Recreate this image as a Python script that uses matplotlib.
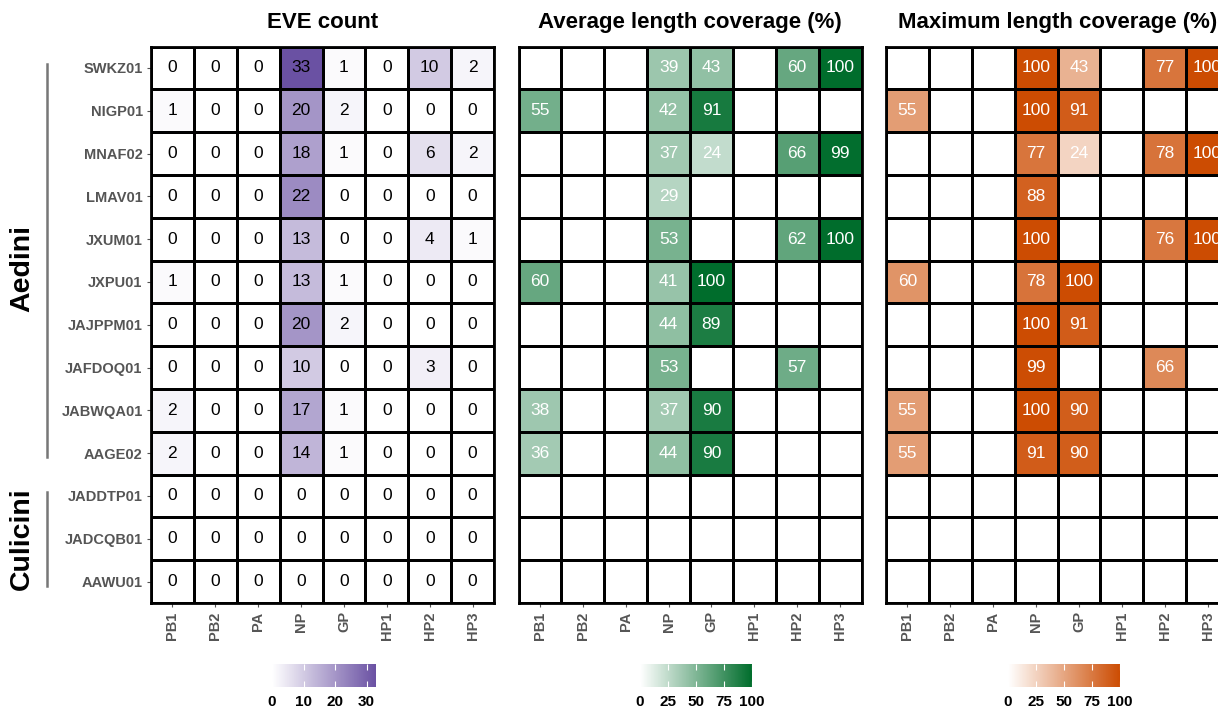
import numpy as np
import matplotlib
matplotlib.use('Agg')
import matplotlib.pyplot as plt
from matplotlib.colors import LinearSegmentedColormap, Normalize

plt.rcParams['font.family'] = ['Liberation Sans', 'DejaVu Sans']

# data
samples = ['SWKZ01', 'NIGP01', 'MNAF02', 'LMAV01', 'JXUM01', 'JXPU01', 'JAJPPM01',
           'JAFDOQ01', 'JABWQA01', 'AAGE02', 'JADDTP01', 'JADCQB01', 'AAWU01']
segments = ['PB1', 'PB2', 'PA', 'NP', 'GP', 'HP1', 'HP2', 'HP3']
tribes = ['Aedini', 'Culicini']
tribe_sizes = [10, 3]

n = np.nan
eve_count = [
    [0, 0, 0, 33, 1, 0, 10, 2],
    [1, 0, 0, 20, 2, 0, 0, 0],
    [0, 0, 0, 18, 1, 0, 6, 2],
    [0, 0, 0, 22, 0, 0, 0, 0],
    [0, 0, 0, 13, 0, 0, 4, 1],
    [1, 0, 0, 13, 1, 0, 0, 0],
    [0, 0, 0, 20, 2, 0, 0, 0],
    [0, 0, 0, 10, 0, 0, 3, 0],
    [2, 0, 0, 17, 1, 0, 0, 0],
    [2, 0, 0, 14, 1, 0, 0, 0],
    [0, 0, 0, 0, 0, 0, 0, 0],
    [0, 0, 0, 0, 0, 0, 0, 0],
    [0, 0, 0, 0, 0, 0, 0, 0],
]
avg_cov = [
    [n, n, n, 39, 43, n, 60, 100],
    [55, n, n, 42, 91, n, n, n],
    [n, n, n, 37, 24, n, 66, 99],
    [n, n, n, 29, n, n, n, n],
    [n, n, n, 53, n, n, 62, 100],
    [60, n, n, 41, 100, n, n, n],
    [n, n, n, 44, 89, n, n, n],
    [n, n, n, 53, n, n, 57, n],
    [38, n, n, 37, 90, n, n, n],
    [36, n, n, 44, 90, n, n, n],
    [n] * 8, [n] * 8, [n] * 8,
]
max_cov = [
    [n, n, n, 100, 43, n, 77, 100],
    [55, n, n, 100, 91, n, n, n],
    [n, n, n, 77, 24, n, 78, 100],
    [n, n, n, 88, n, n, n, n],
    [n, n, n, 100, n, n, 76, 100],
    [60, n, n, 78, 100, n, n, n],
    [n, n, n, 100, 91, n, n, n],
    [n, n, n, 99, n, n, 66, n],
    [55, n, n, 100, 90, n, n, n],
    [55, n, n, 91, 90, n, n, n],
    [n] * 8, [n] * 8, [n] * 8,
]

W, H = 1218, 708
fig = plt.figure(figsize=(W / 100, H / 100), dpi=100)

def fx(px):
    return px / W

def fy(py):
    return 1 - py / H

panels = [
    ('EVE count', eve_count, '#6a51a3', 33, 'black', 151, 272, [0, 10, 20, 30]),
    ('Average length coverage (%)', avg_cov, '#006d2c', 100, 'white', 518.5, 640, [0, 25, 50, 75, 100]),
    ('Maximum length coverage (%)', max_cov, '#cc4c02', 100, 'white', 886, 1008, [0, 25, 50, 75, 100]),
]
top, bottom, pw = 46.5, 603, 343
nr, nc = len(samples), len(segments)

for i, (title, vals, col, vmax, tcol, left, cb_left, cb_ticks) in enumerate(panels):
    ax = fig.add_axes([fx(left), fy(bottom), pw / W, (bottom - top) / H])
    cmap = LinearSegmentedColormap.from_list('c%d' % i, ['white', col])
    cmap.set_bad('white')
    arr = np.ma.masked_invalid(np.array(vals, dtype=float))
    norm = Normalize(0, vmax)
    mesh = ax.pcolormesh(np.arange(nc + 1), np.arange(nr + 1), arr, cmap=cmap, norm=norm,
                         edgecolors='black', linewidth=1.8)
    for r in range(nr):
        for c in range(nc):
            v = vals[r][c]
            if not np.isnan(v):
                ax.text(c + 0.5, r + 0.5, '%d' % v, ha='center', va='center',
                        fontsize=12.5, color=tcol)
    ax.set_xlim(0, nc)
    ax.set_ylim(nr, 0)
    ax.set_xticks(np.arange(nc) + 0.5)
    ax.set_xticklabels(segments, rotation=90, fontsize=10.5, fontweight='bold', color='#555555')
    ax.set_yticks(np.arange(nr) + 0.5)
    ax.tick_params(length=3, width=0.8, color='#555555', pad=3)
    if i == 0:
        ax.set_yticklabels(samples, fontsize=10.5, fontweight='bold', color='#555555')
    else:
        ax.set_yticklabels([])
        ax.tick_params(axis='y', length=0)
    for s in ax.spines.values():
        s.set_linewidth(2)
    ax.set_title(title, fontsize=16, fontweight='bold', pad=13)

    cax = fig.add_axes([fx(cb_left), fy(687), 112 / W if vmax == 100 else 104 / W, 23 / H])
    cb = fig.colorbar(mesh, cax=cax, orientation='horizontal', ticks=cb_ticks)
    cb.outline.set_visible(False)
    cax.tick_params(direction='in', color='white', length=4, width=0.8, top=True, bottom=True,
                    labelsize=11, pad=6)
    for lab in cax.get_xticklabels():
        lab.set_fontweight('bold')

# tribe brackets
start = 0
row_h = (bottom - top) / nr
for tribe, size in zip(tribes, tribe_sizes):
    y0 = top + start * row_h + 0.4 * row_h
    y1 = top + (start + size) * row_h - 0.4 * row_h
    fig.add_artist(plt.Line2D([fx(46.5), fx(46.5)], [fy(y0), fy(y1)], color='#777777', linewidth=1.8))
    off = 8 if size > 5 else 0
    fig.text(fx(22), fy((y0 + y1) / 2 + off), tribe, rotation=90, ha='center', va='center',
             fontsize=20.5, fontweight='bold')
    start += size

fig.savefig('out.png', dpi=100)
